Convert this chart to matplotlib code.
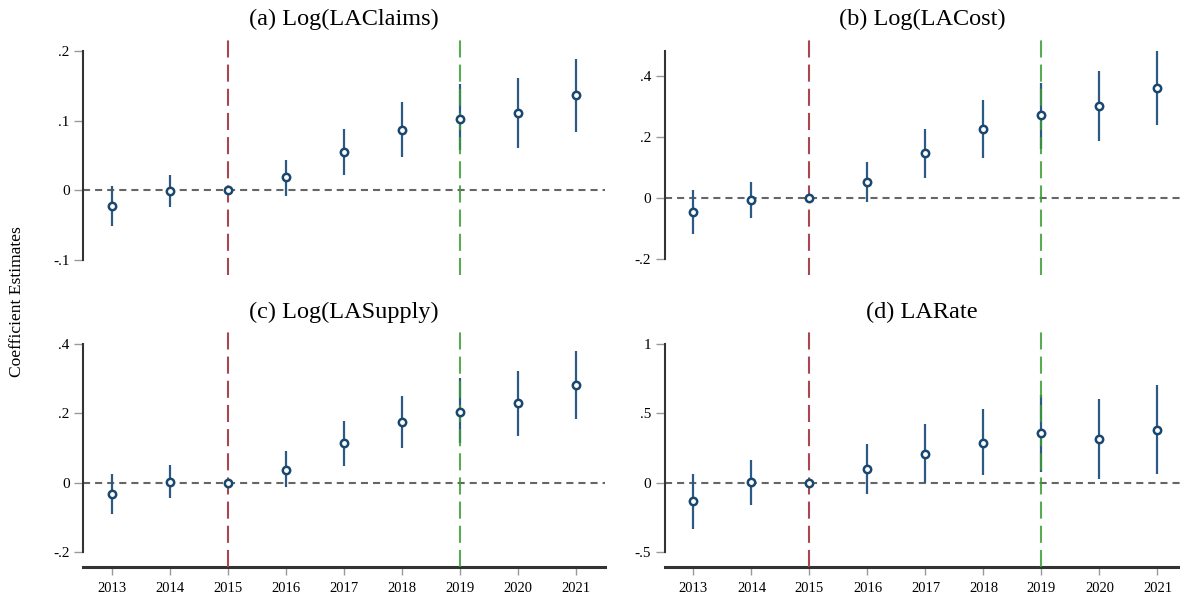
import numpy as np
import matplotlib
matplotlib.use('Agg')
import matplotlib.pyplot as plt

plt.rcParams['font.family'] = ['Liberation Serif', 'DejaVu Serif']

years = [2013, 2014, 2015, 2016, 2017, 2018, 2019, 2020, 2021]

titles = ['(a) Log(LAClaims)', '(b) Log(LACost)', '(c) Log(LASupply)', '(d) LARate']

claims_est = [-0.023, -0.001, 0.0, 0.018, 0.054, 0.087, 0.102, 0.111, 0.136]
claims_lo = [-0.052, -0.024, 0.0, -0.008, 0.021, 0.048, 0.057, 0.061, 0.083]
claims_hi = [0.006, 0.022, 0.0, 0.043, 0.088, 0.127, 0.153, 0.161, 0.189]

cost_est = [-0.046, -0.007, 0.0, 0.053, 0.147, 0.228, 0.273, 0.303, 0.362]
cost_lo = [-0.118, -0.065, 0.0, -0.012, 0.067, 0.133, 0.162, 0.188, 0.241]
cost_hi = [0.026, 0.052, 0.0, 0.118, 0.228, 0.322, 0.378, 0.418, 0.482]

supply_est = [-0.032, 0.003, 0.0, 0.038, 0.113, 0.175, 0.203, 0.229, 0.282]
supply_lo = [-0.089, -0.044, 0.0, -0.013, 0.049, 0.099, 0.115, 0.135, 0.183]
supply_hi = [0.026, 0.050, 0.0, 0.090, 0.178, 0.250, 0.302, 0.323, 0.381]

rate_est = [-0.132, 0.002, 0.0, 0.098, 0.206, 0.288, 0.355, 0.314, 0.382]
rate_lo = [-0.331, -0.163, 0.0, -0.079, -0.005, 0.053, 0.077, 0.024, 0.065]
rate_hi = [0.065, 0.166, 0.0, 0.276, 0.422, 0.528, 0.631, 0.602, 0.700]

ests = [claims_est, cost_est, supply_est, rate_est]
los = [claims_lo, cost_lo, supply_lo, rate_lo]
his = [claims_hi, cost_hi, supply_hi, rate_hi]

yticks = [[-0.1, 0, 0.1, 0.2], [-0.2, 0, 0.2, 0.4], [-0.2, 0, 0.2, 0.4], [-0.5, 0, 0.5, 1]]
ytick_labels = [['-.1', '0', '.1', '.2'], ['-.2', '0', '.2', '.4'],
                ['-.2', '0', '.2', '.4'], ['-.5', '0', '.5', '1']]
ylims = [(-0.1223, 0.2216), (-0.2515, 0.532), (-0.243, 0.443), (-0.6065, 1.106)]
spine_bounds = [(-0.1, 0.2), (-0.2, 0.482), (-0.2, 0.4), (-0.5, 1.0)]

W, H = 1180, 599
fig = plt.figure(figsize=(W / 100, H / 100), dpi=100)

# axes boxes in pixels: left, top, right, bottom
boxes = [(83, 36, 605, 275), (664.5, 36, 1180, 275),
         (83, 329, 605, 567), (664.5, 329, 1180, 567)]

navy = '#1a476f'
ci_col = '#2c5a85'
red = '#a9464f'
green = '#3a9c32'

for i in range(4):
    l, t, r, b = boxes[i]
    ax = fig.add_axes([l / W, 1 - b / H, (r - l) / W, (b - t) / H])
    ax.set_xlim(2012.5, 2012.5 + (r - l) / 58.0)
    ax.set_ylim(*ylims[i])

    ax.axhline(0, color='#666666', lw=1.5, ls=(0, (3.4, 2.4)), zorder=1)
    ax.vlines(years, los[i], his[i], color=ci_col, lw=1.6, zorder=2)
    ax.axvline(2015, color=red, lw=1.5, ls=(0, (8.2, 3.4)), zorder=3)
    ax.axvline(2019, color=green, lw=1.5, ls=(0, (8.2, 3.4)), zorder=3, alpha=0.85)
    ax.plot(years, ests[i], 'o', mfc='white', mec=navy, ms=5.3, mew=1.8, zorder=5)

    ax.set_title(titles[i], fontsize=17.5, pad=8)

    for s in ['top', 'right']:
        ax.spines[s].set_visible(False)
    ax.spines['left'].set_bounds(*spine_bounds[i])
    ax.spines['left'].set_color('#333333')
    ax.spines['left'].set_linewidth(1.5)
    ax.set_yticks(yticks[i])
    ax.set_yticklabels(ytick_labels[i])
    ax.tick_params(axis='y', length=6.5, width=1, color='#999999', labelsize=11, pad=3)

    if i >= 2:
        ax.spines['bottom'].set_color('#333333')
        ax.spines['bottom'].set_linewidth(2.2)
        ax.set_xticks(years)
        ax.set_xticklabels([str(y) for y in years])
        ax.tick_params(axis='x', length=6, width=1, color='#999999', labelsize=10.5, pad=5)
    else:
        ax.spines['bottom'].set_visible(False)
        ax.set_xticks([])

fig.text(17 / W, 0.496, 'Coefficient Estimates', rotation=90, ha='center', va='center',
         fontsize=12.6)

fig.savefig('out.png', dpi=100)
